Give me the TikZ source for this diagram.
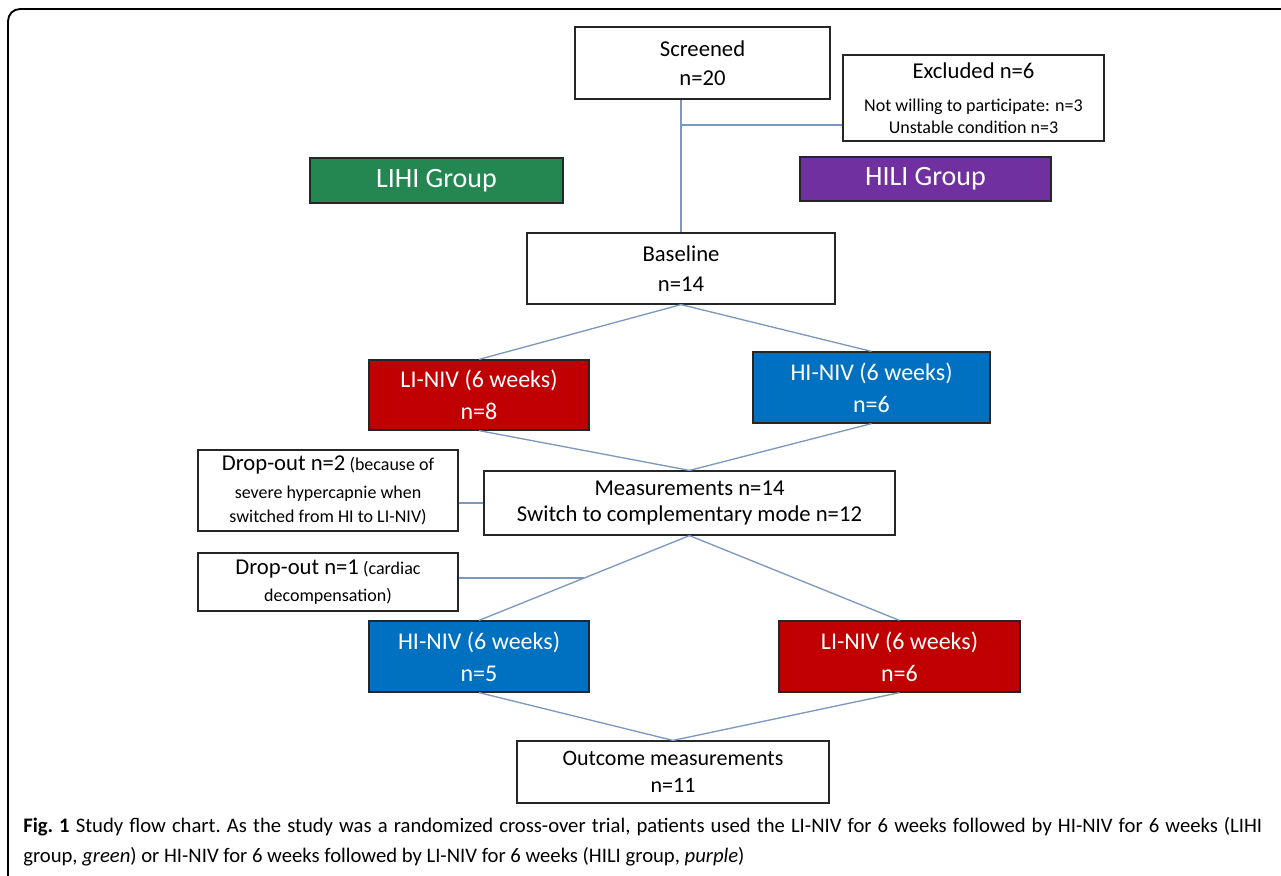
\documentclass[tikz,border=0pt]{standalone}
\usepackage{fontspec}
\setmainfont{Carlito}
\usepackage{tikz}
\usetikzlibrary{calc}
\usepackage{xcolor}
\definecolor{lihigreen}{RGB}{36,135,82}
\definecolor{hilipurple}{RGB}{112,48,160}
\definecolor{lired}{RGB}{192,0,0}
\definecolor{hiblue}{RGB}{0,112,192}
\definecolor{linkblue}{RGB}{124,152,192}

\begin{document}
\begin{tikzpicture}[x=0.75pt, y=-0.75pt, box/.style={draw=black!85, line width=0.9pt, fill=white, align=center, inner sep=0pt, font=\fontsize{17}{22}\selectfont}, group/.style={box, text=white, font=\fontsize{21}{24}\selectfont}, niv/.style={box, text=white, font=\fontsize{18}{24}\selectfont}, link/.style={draw=linkblue, line width=1pt}]
        \useasboundingbox (0,0) rectangle (1281,875);
        \begin{scope}
            \clip (0,0) rectangle (1281,875);
            \draw[line width=1.4pt, rounded corners=9pt] (8,9) rectangle (1320,920);
        \end{scope}

        \node[box, minimum width=191.25pt, minimum height=54pt] (screen) at (702.5,63) {Screened\\n=20};
        \node[box, minimum width=195.75pt, minimum height=64.5pt, font=\fontsize{13.5}{16}\selectfont] (excl) at (973.5,98) {{\fontsize{17}{20}\selectfont Excluded n=6}\\[9pt]Not willing to participate: n=3\\Unstable condition n=3};
        \node[group, fill=lihigreen, minimum width=189.75pt, minimum height=33.75pt] (lihi) at (436.5,180.5) {LIHI Group};
        \node[group, fill=hilipurple, minimum width=188.25pt, minimum height=33pt] (hili) at (925.5,179) {HILI Group};
        \node[box, minimum width=231pt, minimum height=53.25pt] (base) at (681,268.5) {Baseline\\n=14};
        \node[niv, fill=lired, minimum width=165pt, minimum height=52.5pt] (li1) at (479,395) {LI-NIV (6 weeks)\\n=8};
        \node[niv, fill=hiblue, minimum width=177.75pt, minimum height=53.25pt] (hi1) at (871.5,387.5) {HI-NIV (6 weeks)\\n=6};
        \node[box, minimum width=308.25pt, minimum height=48pt, font=\fontsize{17}{19}\selectfont] (meas) at (689.5,503) {Measurements n=14\\Switch to complementary mode n=12};
        \node[box, minimum width=195pt, minimum height=60.75pt, font=\fontsize{13.5}{18}\selectfont] (drop2) at (328,490.5) {{\fontsize{17}{20}\selectfont Drop-out n=2} (because of\\[3pt]severe hypercapnie when\\switched from HI to LI-NIV)};
        \node[box, minimum width=195pt, minimum height=43.5pt, font=\fontsize{13.5}{18}\selectfont] (drop1) at (328,582) {{\fontsize{17}{20}\selectfont Drop-out n=1} (cardiac\\[2pt]decompensation)};
        \node[niv, fill=hiblue, minimum width=165pt, minimum height=53.25pt] (hi2) at (479,656.5) {HI-NIV (6 weeks)\\n=5};
        \node[niv, fill=lired, minimum width=180.75pt, minimum height=53.25pt] (li2) at (899.5,656.5) {LI-NIV (6 weeks)\\n=6};
        \node[box, minimum width=234pt, minimum height=46.5pt, font=\fontsize{16.5}{20}\selectfont] (out) at (673,772) {Outcome measurements\\n=11};

        \coordinate (br) at (base.north |- 0,125);
        \coordinate (d1) at ($(meas.south)!0.5!(hi2.north)$);

        \path[link] (screen.south -| base.north) edge (base.north)
              (br) edge (br -| excl.west)
              (base.south) edge (li1.north)
              (base.south) edge (hi1.north)
              (li1.south) edge (meas.north)
              (hi1.south) edge (meas.north)
              (meas.west) edge (meas.west -| drop2.east)
              (meas.south) edge (hi2.north)
              (meas.south) edge (li2.north)
              (d1) edge (d1 -| drop1.east)
              (hi2.south) edge (out.north)
              (li2.south) edge (out.north);

        \node[anchor=north west, text width=929.25pt, align=justify, inner sep=0pt, font=\fontsize{15.5}{22.5}\selectfont\frenchspacing] (caption) at (23,817) {\textbf{Fig.~1} Study flow chart. As the study was a randomized cross-over trial, patients used the LI-NIV for 6 weeks followed by HI-NIV for 6 weeks (LIHI\linebreak group, \textit{green}) or HI-NIV for 6 weeks followed by LI-NIV for 6 weeks (HILI group, \textit{purple})};
    \end{tikzpicture}
\end{document}
